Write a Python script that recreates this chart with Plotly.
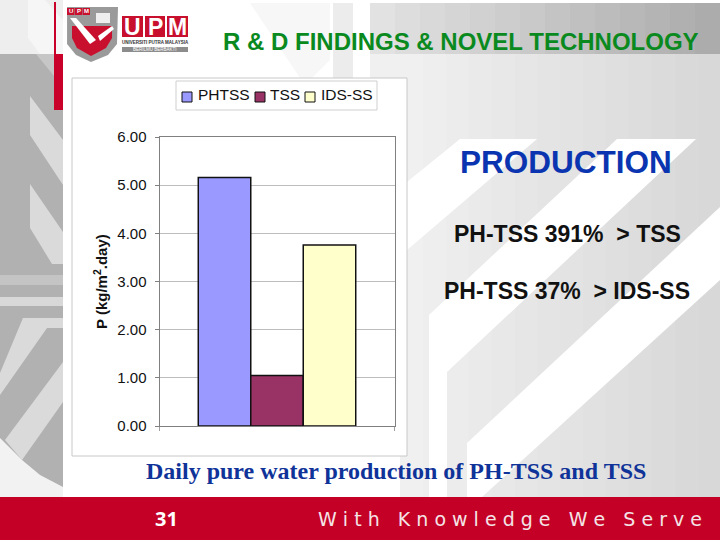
"""
plot.py: daily pure water production of PH-TSS, TSS and IDS-SS, on the UPM slide.
"""

import plotly.graph_objects as go

SERIES = ["PHTSS", "TSS", "IDS-SS"]
PRODUCTION = [5.16, 1.05, 3.76]
BAR_COLORS = ["#9999ff", "#993366", "#ffffcc"]
Y_TICKS = [0, 1, 2, 3, 4, 5, 6]
SIDE_LINES = ["PH-TSS 391%\u00a0 > TSS", "PH-TSS 37%\u00a0 > IDS-SS"]

# legend entries: swatch left edge, text left edge (pixels on the slide)
LEGEND_SWATCH_X = [182, 255, 305]
LEGEND_TEXT_X = [196, 268, 319]

W, H = 720, 540


def px_x(x):
    return x / W


def px_y(y):
    return 1 - y / H


def poly(points, color):
    path = "M " + " L ".join(f"{px_x(x):.4f},{px_y(y):.4f}" for x, y in points) + " Z"
    return dict(type="path", xref="paper", yref="paper", path=path,
                fillcolor=color, line=dict(width=0), layer="below")


def rect(x0, y0, x1, y1, color, line=None):
    return dict(type="rect", xref="paper", yref="paper",
                x0=px_x(x0), x1=px_x(x1), y0=px_y(y1), y1=px_y(y0),
                fillcolor=color, line=line or dict(width=0), layer="below")


def label(x, y, text, size, color, family="Liberation Sans", anchor="center", bold=False):
    return dict(xref="paper", yref="paper", x=px_x(x), y=px_y(y), text=text,
                showarrow=False, xanchor=anchor, yanchor="middle",
                font=dict(family=family, size=size, color=color,
                          weight="bold" if bold else "normal"))


def grey(level):
    level = int(level)
    return f"rgb({level},{level},{level})"


def gradient(x0, x1, y0, y1, start, end, steps=14):
    # background shading only, built from thin strips
    step = (x1 - x0) / steps
    return [rect(x0 + i * step, y0, x0 + (i + 1) * step + 0.5, y1,
                 grey(start + (end - start) * i / (steps - 1))) for i in range(steps)]


shapes = [rect(0, 0, 720, 540, "#ffffff")]
shapes += gradient(370, 720, 3, 54, 226, 172)
shapes += gradient(400, 720, 54, 497, 240, 216)
shapes += [
    rect(370, 54, 400, 78, "#f0f0f0"),
    rect(333, 3, 353, 78, "#ececec"),
    poly([(250, 3), (330, 3), (330, 60), (312, 78), (300, 78)], "#f7f7f7"),
    # white diagonal stripes on the right
    poly([(460, 139), (537, 139), (407, 250), (407, 182)], "#ffffff"),
    poly([(617, 139), (696, 139), (447, 372), (447, 497), (429, 497), (429, 315)], "#ffffff"),
    poly([(720, 207), (720, 280), (482, 497), (467, 497), (467, 443)], "#ffffff"),
    # left band
    rect(0, 0, 63, 54, "#eeeeee"),
    poly([(28, 0), (45, 0), (63, 20), (63, 54), (40, 54), (28, 38)], "#f6f6f6"),
    rect(0, 54, 63, 497, "#b1b1b1"),
    poly([(36, 54), (54, 54), (54, 76)], "#c6c6c6"),
    poly([(30, 96), (63, 140), (63, 185), (30, 135)], "#dadada"),
    poly([(30, 184), (63, 232), (63, 264), (52, 264), (30, 228)], "#dadada"),
    rect(0, 275, 63, 285, "#c4c4c4"),
    rect(0, 297, 63, 306, "#d8d8d8"),
    poly([(23, 318), (63, 318), (63, 328), (47, 328), (0, 395), (0, 373)], "#dadada"),
    poly([(63, 362), (63, 402), (22, 460), (5, 440)], "#dadada"),
    poly([(0, 438), (22, 460), (40, 475), (63, 487), (63, 497), (0, 497)], "#f2f2f2"),
    # red rule and footer
    rect(54, 2, 56, 54, "#c8002a"),
    rect(54, 54, 63, 110, "#c8002a"),
    rect(0, 497, 720, 540, "#c40026"),
    # logo
    poly([(67, 7), (118, 7), (117, 44), (108, 55), (91, 62), (76, 55), (67, 44)], "#9a9a9a"),
    poly([(72, 26), (112, 26), (112, 38), (106, 48), (91, 56), (77, 48), (72, 38)], "#c8102e"),
    poly([(70, 18), (76, 18), (96, 40), (90, 44)], "#ffffff"),
    poly([(98, 36), (112, 26), (114, 29), (100, 41)], "#ffffff"),
    rect(96, 13, 110, 23, "#eeeeee"),
    rect(67, 8, 74.5, 15, "#c8102e"),
    rect(75, 8, 82.5, 15, "#c8102e"),
    rect(83, 8, 90, 15, "#c8102e"),
    rect(122, 16, 143, 37, "#c8102e"),
    rect(145, 16, 165, 37, "#c8102e"),
    rect(167, 16, 188, 37, "#c8102e"),
    rect(122, 47, 188, 52, "#8c8c8c"),
    # chart panel and legend box
    rect(72, 78, 407, 456, "#ffffff", dict(color="#c8c8c8", width=1)),
    rect(176, 81, 377, 110, "#ffffff", dict(color="#cfcfcf", width=1)),
]

annotations = [
    label(461, 42, "R &amp; D FINDINGS &amp; NOVEL TECHNOLOGY", 24, "#0a8a1e", bold=True),
    label(70.7, 11.5, "U", 6, "#ffffff", bold=True),
    label(78.7, 11.5, "P", 6, "#ffffff", bold=True),
    label(86.5, 11.5, "M", 6, "#ffffff", bold=True),
    label(132.5, 27, "U", 23, "#ffffff", bold=True),
    label(155, 27, "P", 23, "#ffffff", bold=True),
    label(177.5, 27, "M", 23, "#ffffff", bold=True),
    label(155, 42.5, "UNIVERSITI PUTRA MALAYSIA", 4.5, "#333333", bold=True),
    label(155, 49.5, "BERILMU BERBAKTI", 4.5, "#ffffff"),
    label(566, 162, "PRODUCTION", 31.5, "#0b35b0", bold=True),
    label(567, 234, SIDE_LINES[0], 23, "#111111", bold=True),
    label(567, 291, SIDE_LINES[1], 23, "#111111", bold=True),
    label(396, 471, "Daily pure water production of PH-TSS and TSS", 24, "#0f3399",
          family="Liberation Serif", bold=True),
    label(166, 518, "31", 20, "#ffffff", family="Open Sans", bold=True),
    label(510, 519, "W i t h\u00a0\u00a0 K n o w l e d g e\u00a0\u00a0 W e\u00a0\u00a0 S e r v e", 19,
          "#f4e4e6", family="DejaVu Sans"),
    dict(label(100, 282, "P (kg/m<sup>2</sup>.day)", 15, "#111111", bold=True), textangle=-90),
]

fig = go.Figure()
for name, value, color in zip(SERIES, PRODUCTION, BAR_COLORS):
    fig.add_trace(go.Bar(
        x=["Production"],
        y=[value],
        name=name,
        marker=dict(color=color, line=dict(color="#111111", width=1.5)),
    ))

for name, color, swatch_x, text_x in zip(SERIES, BAR_COLORS, LEGEND_SWATCH_X, LEGEND_TEXT_X):
    shapes.append(rect(swatch_x, 92, swatch_x + 10, 102, color, dict(color="#111111", width=1)))
    annotations.append(label(text_x, 94.5, name, 15.5, "#111111", anchor="left"))

fig.update_layout(
    width=W,
    height=H,
    autosize=False,
    margin=dict(l=0, r=0, t=0, b=0, autoexpand=False),
    paper_bgcolor="#ffffff",
    plot_bgcolor="white",
    barmode="group",
    bargap=0.33,
    bargroupgap=0,
    showlegend=False,
    font=dict(family="Liberation Sans", size=15, color="#111111"),
    shapes=shapes,
    annotations=annotations,
    xaxis=dict(
        domain=[px_x(159.5), px_x(394.5)],
        automargin=False,
        showticklabels=False,
        showline=True,
        linecolor="#808080",
        mirror=True,
        ticks="outside",
        tickson="boundaries",
        ticklen=4,
        tickcolor="#a0a0a0",
    ),
    yaxis=dict(
        domain=[px_y(426), px_y(137)],
        automargin=False,
        range=[0, 6],
        tickvals=Y_TICKS,
        tickformat=".2f",
        tickfont=dict(size=15),
        ticks="outside",
        ticklen=4,
        ticklabelstandoff=5,
        tickcolor="#808080",
        gridcolor="#bdbdbd",
        showline=True,
        linecolor="#808080",
        mirror=True,
        zeroline=False,
    ),
)

# the default page leaves a body margin, which would push the slide off the window
fig.write_html("out.html", post_script="document.body.style.margin = '0';",
               config=dict(displayModeBar=False))
